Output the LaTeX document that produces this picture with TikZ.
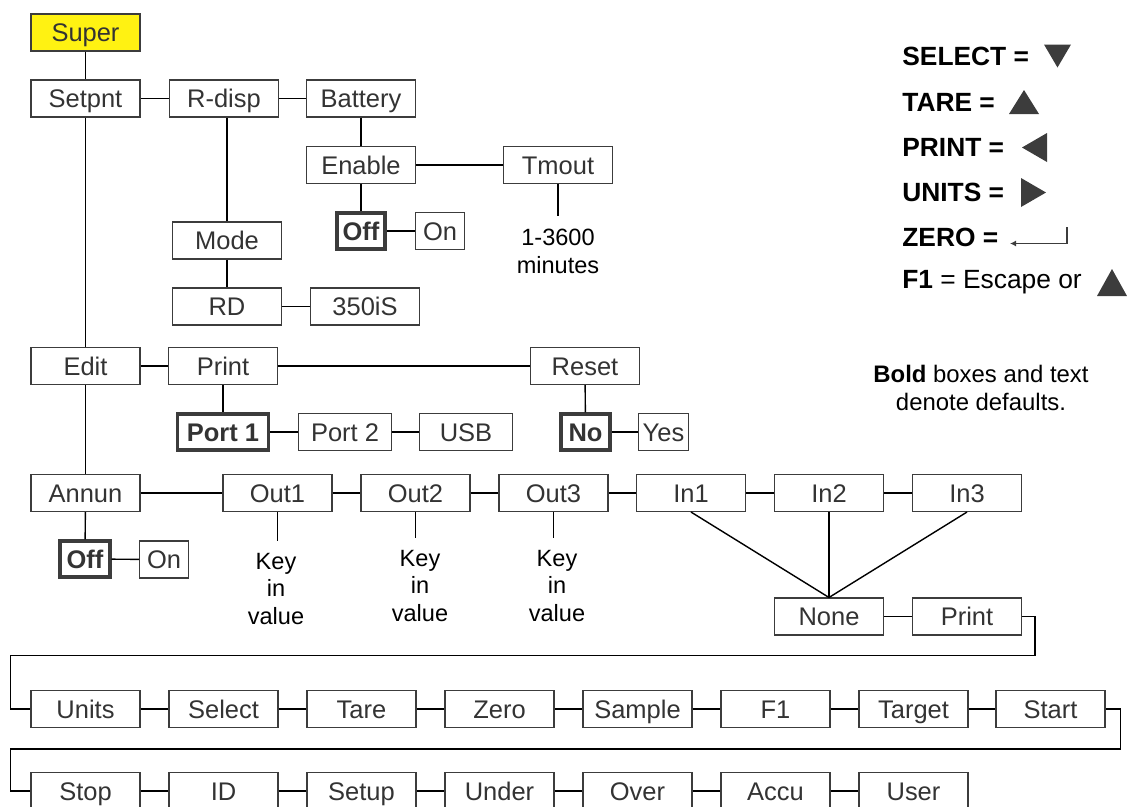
\documentclass[tikz,border=0pt]{standalone}
\usepackage{fontspec}
\setmainfont{Liberation Sans}
\usetikzlibrary{positioning,arrows.meta}
\definecolor{BoxGray}{HTML}{3C3C3C}
\definecolor{TextGray}{HTML}{333333}
\definecolor{SuperYellow}{HTML}{FFF212}

\begin{document}
\begin{tikzpicture}[
    x=0.02cm, y=-0.02cm,
    box/.style={draw=BoxGray, line width=0.6pt, minimum width=2.18cm, minimum height=0.74cm, inner sep=0pt, text height=13.4pt, text depth=3pt, text=TextGray, font=\fontsize{14.5}{17}\selectfont},
    defbox/.style={box, line width=2pt, minimum height=0.72cm, font=\fontsize{14.5}{17}\selectfont\bfseries},
    note/.style={align=center, inner xsep=0pt, inner ysep=0.24cm, font=\fontsize{13.4}{15.9}\selectfont},
    legend/.style={anchor=west, inner sep=0pt, font=\fontsize{15}{18}\selectfont},
    link/.style={draw=black, line width=0.8pt}
  ]
    \useasboundingbox (0,0) rectangle (1127,806);

    % setpoint branch
    \node[box, fill=SuperYellow] (super) at (85.5, 32.5) {Super};
    \node[box] (setpnt) at (85.5, 98.5) {Setpnt};
    \node[box] (rdisp) at (224, 98.5) {R-disp};
    \node[box] (battery) at (361, 98.5) {Battery};
    \node[box] (enable) at (361, 165) {Enable};
    \node[defbox, minimum width=0.97cm] (offA) at (361, 231) {Off};
    \node[box, minimum width=0.97cm] (onA) at (440, 231) {On};
    \node[box] (tmout) at (558, 165) {Tmout};
    \node[note] (minutes) at (558, 251) {1-3600\\minutes};
    \node[box] (mode) at (227, 240.5) {Mode};
    \node[box] (rd) at (227, 306.5) {RD};
    \node[box] (is350) at (365, 306.5) {350iS};

    % edit branch
    \node[box] (edit) at (85.5, 366) {Edit};
    \node[box] (print) at (223, 366) {Print};
    \node[box] (reset) at (585, 366) {Reset};
    \node[defbox, minimum width=1.83cm] (port1) at (223, 432) {Port 1};
    \node[box, minimum width=1.85cm] (port2) at (345, 432) {Port 2};
    \node[box, minimum width=1.85cm] (usb) at (466, 432) {USB};
    \node[defbox, minimum width=0.99cm] (no) at (585.5, 432) {No};
    \node[box, minimum width=1.0cm] (yes) at (663.5, 432) {Yes};

    % annunciator branch
    \node[box] (annun) at (85.5, 493) {Annun};
    \node[box] (out1) at (277.5, 493) {Out1};
    \node[box] (out2) at (415.5, 493) {Out2};
    \node[box] (out3) at (553.5, 493) {Out3};
    \node[box] (in1) at (691, 493) {In1};
    \node[box] (in2) at (829, 493) {In2};
    \node[box] (in3) at (967, 493) {In3};
    \node[defbox, minimum width=0.99cm] (offB) at (85, 559) {Off};
    \node[box, minimum width=0.97cm] (onB) at (164, 559.5) {On};
    \node[note] (key1) at (276, 589) {Key\\in\\value};
    \node[note] (key2) at (420, 586) {Key\\in\\value};
    \node[note] (key3) at (557, 586) {Key\\in\\value};
    \node[box] (none) at (829, 616.5) {None};
    \node[box] (printB) at (967, 616.5) {Print};

    % input functions
    \node[box] (units) at (85.5, 709) {Units};
    \node[box] (select) at (223.5, 709) {Select};
    \node[box] (tare) at (361.5, 709) {Tare};
    \node[box] (zero) at (499.5, 709) {Zero};
    \node[box] (sample) at (637.5, 709) {Sample};
    \node[box] (f1) at (775.5, 709) {F1};
    \node[box] (target) at (913.5, 709) {Target};
    \node[box] (start) at (1050.5, 709) {Start};
    \node[box] (stop) at (85.5, 791) {Stop};
    \node[box] (id) at (223.5, 791) {ID};
    \node[box] (setup) at (361.5, 791) {Setup};
    \node[box] (under) at (499.5, 791) {Under};
    \node[box] (over) at (637.5, 791) {Over};
    \node[box] (accu) at (775.5, 791) {Accu};
    \node[box] (user) at (913.5, 791) {User};

    \coordinate (wrapAr) at (1035, 655.5);
    \coordinate (wrapAl) at (10.5, 655.5);
    \coordinate (wrapBr) at (1120.5, 749);
    \coordinate (wrapBl) at (10.5, 749);

    \draw[link] (super) -- (setpnt);
    \draw[link] (setpnt) -- (rdisp);
    \draw[link] (rdisp) -- (battery);
    \draw[link] (battery) -- (enable);
    \draw[link] (enable) -- (tmout);
    \draw[link] (enable) -- (offA);
    \draw[link] (offA) -- (onA);
    \draw[link] (tmout) -- (minutes);
    \draw[link] (mode.north) -- (mode.north |- rdisp.south);
    \draw[link] (mode) -- (rd);
    \draw[link] (rd) -- (is350);
    \draw[link] (setpnt) -- (edit);
    \draw[link] (edit) -- (annun);
    \draw[link] (edit) -- (print);
    \draw[link] (print) -- (reset);
    \draw[link] (print) -- (port1);
    \draw[link] (port1) -- (port2);
    \draw[link] (port2) -- (usb);
    \draw[link] (reset) -- (no);
    \draw[link] (no) -- (yes);
    \draw[link] (annun) -- (out1);
    \draw[link] (out1) -- (out2);
    \draw[link] (out2) -- (out3);
    \draw[link] (out3) -- (in1);
    \draw[link] (in1) -- (in2);
    \draw[link] (in2) -- (in3);
    \draw[link] (annun) -- (offB);
    \draw[link] (offB) -- (onB);
    \draw[link] (out1.south) -- (key1.north -| out1.south);
    \draw[link] (out2.south) -- (key2.north -| out2.south);
    \draw[link] (out3.south) -- (key3.north -| out3.south);
    \draw[link] (in1.south) -- (none.north);
    \draw[link] (in2.south) -- (none.north);
    \draw[link] (in3.south) -- (none.north);
    \draw[link] (none) -- (printB);
    \draw[link] (printB.east) -| (wrapAr) -- (wrapAl) |- (units.west);
    \draw[link] (units) -- (select);
    \draw[link] (select) -- (tare);
    \draw[link] (tare) -- (zero);
    \draw[link] (zero) -- (sample);
    \draw[link] (sample) -- (f1);
    \draw[link] (f1) -- (target);
    \draw[link] (target) -- (start);
    \draw[link] (start.east) -| (wrapBr) -- (wrapBl) |- (stop.west);
    \draw[link] (stop) -- (id);
    \draw[link] (id) -- (setup);
    \draw[link] (setup) -- (under);
    \draw[link] (under) -- (over);
    \draw[link] (over) -- (accu);
    \draw[link] (accu) -- (user);

    % key legend
    \node[legend] (lselect) at (902, 56) {\textbf{SELECT =}};
    \node[legend] (ltare) at (902, 102) {\textbf{TARE =}};
    \node[legend] (lprint) at (902, 147) {\textbf{PRINT =}};
    \node[legend] (lunits) at (902, 192) {\textbf{UNITS =}};
    \node[legend] (lzero) at (902, 237) {\textbf{ZERO =}};
    \node[legend] (lf1) at (902, 282) {\textbf{F1} = Escape or};
    \fill[BoxGray] (1044, 44.5) -- (1071, 44.5) -- (1057.5, 67.5) -- cycle;
    \fill[BoxGray] (1009, 114) -- (1039, 114) -- (1024, 90) -- cycle;
    \fill[BoxGray] (1047, 133) -- (1047, 162) -- (1022, 147.5) -- cycle;
    \fill[BoxGray] (1021, 178) -- (1021, 207) -- (1046, 192.5) -- cycle;
    \fill[BoxGray] (1097, 296) -- (1127, 296) -- (1112, 269) -- cycle;
    \draw[BoxGray, line width=0.8pt, -{Latex[length=1.2mm, width=1.2mm]}] (1067, 227) -- (1067, 243.5) -- (1010, 243.5);
    \node[align=center, inner sep=0pt, font=\fontsize{13.6}{15.5}\selectfont] (defnote) at (981, 388) {\textbf{Bold} boxes and text\\denote defaults.};
  \end{tikzpicture}
\end{document}
